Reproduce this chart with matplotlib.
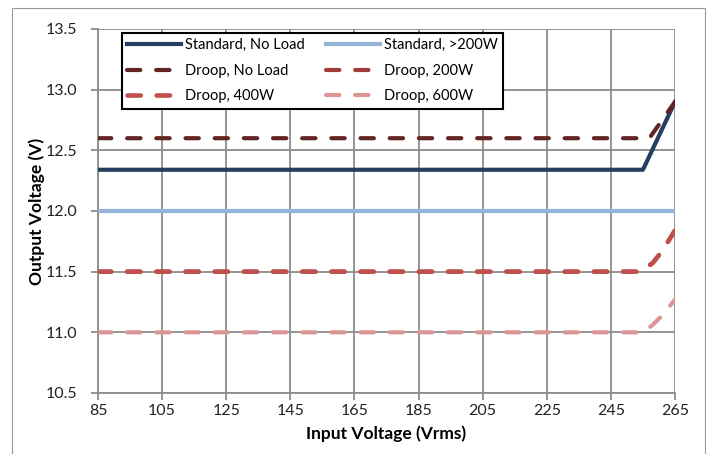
import matplotlib.pyplot as plt
from matplotlib.patches import Rectangle

# data
std_noload_x = [85, 255, 265]
std_noload_y = [12.34, 12.34, 12.9]
std_200_x = [85, 265]
std_200_y = [12.0, 12.0]
droop_noload_x = [85, 257, 265]
droop_noload_y = [12.6, 12.6, 12.9]
# 200W droop curve is not visible in the chart (covered by the 400W one)
droop_200_x = [85, 254, 258, 261, 265]
droop_200_y = [11.5, 11.5, 11.57, 11.67, 11.84]
droop_400_x = [85, 254, 258, 261, 265]
droop_400_y = [11.5, 11.5, 11.57, 11.67, 11.84]
droop_600_x = [85, 255, 258, 261, 265]
droop_600_y = [11.0, 11.0, 11.06, 11.14, 11.27]

x_ticks = [85, 105, 125, 145, 165, 185, 205, 225, 245, 265]
y_ticks = [10.5, 11.0, 11.5, 12.0, 12.5, 13.0, 13.5]

plt.rcParams['font.family'] = ['Lato', 'DejaVu Sans']

fig = plt.figure(figsize=(7.07, 4.54), dpi=100)
ax = fig.add_axes([98 / 707, 61 / 454, 577 / 707, 364 / 454])

grid_c = '#8c8c8c'
dash = (3.2, 3.8)
lw = 3

ax.plot(droop_200_x, droop_200_y, color='#a33b38', lw=lw, dashes=dash,
        dash_capstyle='round', label='Droop, 200W', zorder=2)
ax.plot(std_200_x, std_200_y, color='#95b3d7', lw=lw, label='Standard, >200W', zorder=3)
ax.plot(std_noload_x, std_noload_y, color='#243f60', lw=lw, label='Standard, No Load', zorder=3)
ax.plot(droop_noload_x, droop_noload_y, color='#632523', lw=lw, dashes=dash,
        dash_capstyle='round', label='Droop, No Load', zorder=4)
ax.plot(droop_400_x, droop_400_y, color='#c0504d', lw=lw + 0.3, dashes=(3.2 * lw / (lw + 0.3), 3.8 * lw / (lw + 0.3)),
        dash_capstyle='round', label='Droop, 400W', zorder=3)
ax.plot(droop_600_x, droop_600_y, color='#d99694', lw=lw, dashes=dash,
        dash_capstyle='round', label='Droop, 600W', zorder=3)

ax.set_xlim(85, 265)
ax.set_ylim(10.5, 13.5)
ax.set_xticks(x_ticks)
ax.set_yticks(y_ticks)
ax.set_yticklabels([f'{v:.1f}' for v in y_ticks])
ax.grid(True, color=grid_c, lw=1.3)
ax.set_axisbelow(True)
for s in ['top', 'right']:
    ax.spines[s].set_visible(False)
for s in ['left', 'bottom']:
    ax.spines[s].set_color(grid_c)
    ax.spines[s].set_linewidth(1.3)
ax.tick_params(length=5, width=1.3, color=grid_c, labelsize=11.5, labelcolor='#222222')
ax.tick_params(axis='x', pad=3)
ax.tick_params(axis='y', pad=10)

ax.set_xlabel('Input Voltage (Vrms)', fontsize=12.5, fontweight='bold', labelpad=5)
ax.set_ylabel('Output Voltage (V)', fontsize=12.5, fontweight='bold', labelpad=0)

handles, labels = ax.get_legend_handles_labels()
order = ['Standard, No Load', 'Standard, >200W', 'Droop, No Load', 'Droop, 200W',
         'Droop, 400W', 'Droop, 600W']
hmap = dict(zip(labels, handles))
# column-major ordering for ncol=2 so rows read left to right
col_order = [order[0], order[2], order[4], order[1], order[3], order[5]]
leg = ax.legend([hmap[k] for k in col_order], col_order, ncol=2, loc='upper left',
                bbox_to_anchor=(0.0416, 0.989), borderaxespad=0, fontsize=10.5,
                frameon=True, fancybox=False, framealpha=1, handlelength=3.7,
                labelspacing=0.8, columnspacing=1.4, handletextpad=0.3,
                borderpad=0.35)
leg.get_frame().set_edgecolor('black')
leg.get_frame().set_linewidth(1.5)
leg.set_zorder(10)

fig.patches.append(Rectangle((12 / 707, 0), 693 / 707, 446 / 454, transform=fig.transFigure,
                             fill=False, edgecolor='#9a9a9a', lw=0.8))

fig.savefig('out.png', dpi=100)
